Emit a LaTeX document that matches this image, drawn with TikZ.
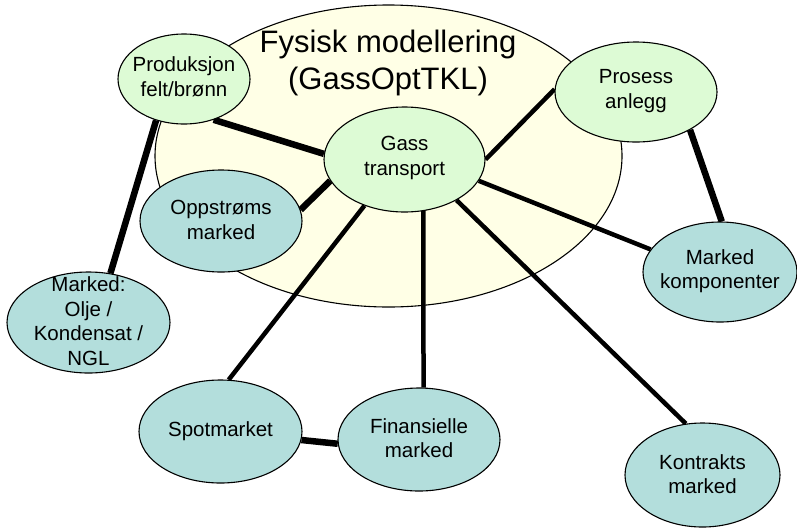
\documentclass[tikz,border=0pt]{standalone}
\usepackage{fontspec}
\setmainfont{Liberation Sans}
\usetikzlibrary{shapes.geometric}
\pgfdeclarelayer{bg}
\pgfdeclarelayer{lines}
\pgfsetlayers{bg,lines,main}
\definecolor{lgreen}{RGB}{221,251,213}
\definecolor{lteal}{RGB}{179,222,220}
\definecolor{lyellow}{RGB}{255,255,230}
\begin{document}
\begin{tikzpicture}[x=1pt,y=-1pt,
  oval/.style={ellipse,draw=black,line width=1.1pt,inner sep=0pt},
  gnode/.style={oval,fill=lgreen},
  tnode/.style={oval,fill=lteal},
  txt/.style={align=center,inner sep=0pt,font=\fontsize{20.5}{24.5}\selectfont},
  titletxt/.style={align=center,inner sep=0pt,font=\fontsize{31}{37.5}\selectfont},
  thinlink/.style={line width=4.5pt},
  thicklink/.style={line width=6.5pt}]
\useasboundingbox (0,0) rectangle (797,528);

% big background ellipse
\begin{pgfonlayer}{bg}
\node[oval,fill=lyellow,minimum width=467pt,minimum height=302pt] (fys) at (388.5,156) {};
\end{pgfonlayer}
\node[titletxt] (title) at (388,63) {Fysisk modellering\\(GassOptTKL)};

% nodes
\node[gnode,minimum width=132pt,minimum height=90pt] (prod) at (184,79) {};
\node[txt] (prodT) at (184,77) {Produksjon\\felt/brønn};

\node[gnode,minimum width=162pt,minimum height=100pt] (pros) at (636,92) {};
\node[txt] (prosT) at (636,91) {Prosess\\anlegg};

\node[gnode,minimum width=161pt,minimum height=105pt] (gass) at (404.5,159.5) {};
\node[txt] (gassT) at (404.5,158) {Gass\\transport};

\node[tnode,minimum width=162pt,minimum height=102pt] (opp) at (221,221) {};
\node[txt] (oppT) at (221,220) {Oppstrøms\\marked};

\node[tnode,minimum width=163pt,minimum height=101pt] (olje) at (88.5,322.5) {};
\node[txt] (oljeT) at (88.5,321) {Marked:\\Olje /\\Kondensat /\\NGL};

\node[tnode,minimum width=154pt,minimum height=100pt] (mk) at (720,272) {};
\node[txt] (mkT) at (720,271) {Marked\\komponenter};

\node[tnode,minimum width=163pt,minimum height=103pt] (spot) at (220.5,431.5) {};
\node[txt] (spotT) at (220.5,431.5) {Spotmarket};

\node[tnode,minimum width=162pt,minimum height=103pt] (fin) at (419,439.5) {};
\node[txt] (finT) at (419,438) {Finansielle\\marked};

\node[tnode,minimum width=155pt,minimum height=104pt] (kon) at (702.5,475) {};
\node[txt] (konT) at (702.5,474) {Kontrakts\\marked};

% connectors
\begin{pgfonlayer}{lines}
\draw[thicklink] (prod.-54.7) -- (gass.176.8);
\draw[thicklink] (prod.236.2) -- (olje.66.5);
\draw[thicklink] (gass.196.4) -- (opp.8);
\draw[thinlink] (gass.0) -- (pros.178.6);
\draw[thicklink] (pros.-35) -- (mk.88);
\draw[thinlink] (gass.-16) -- (mk.162.6);
\draw[thinlink] (gass.229) -- (spot.81.4);
\draw[thinlink] (gass.-70) -- (fin.85.5);
\draw[thinlink] (gass.-38) -- (kon.108);
\draw[thicklink] (spot.-6) -- (fin.183.9);
\end{pgfonlayer}
\end{tikzpicture}
\end{document}
